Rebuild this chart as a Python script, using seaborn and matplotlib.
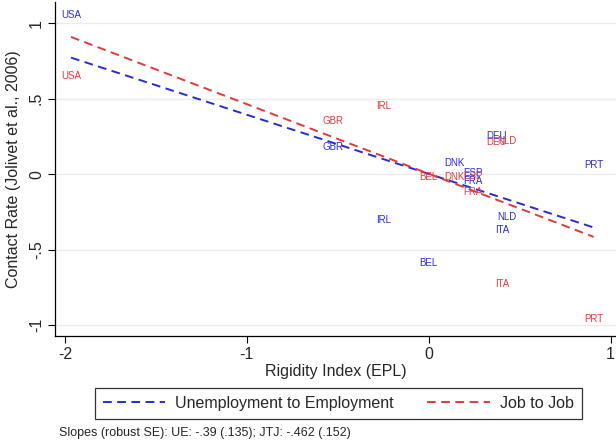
import numpy as np
import pandas as pd
import matplotlib
matplotlib.use("Agg")
import matplotlib.pyplot as plt
import seaborn as sns

# country-level data
countries = ["USA", "GBR", "IRL", "DNK", "ESP", "FRA", "DEU", "NLD", "ITA", "BEL", "PRT"]
epl = [-1.967, -0.527, -0.247, 0.143, 0.242, 0.242, 0.374, 0.429, 0.407, 0.0, 0.907]
ue = [1.053, 0.18, -0.307, 0.073, 0.007, -0.047, 0.253, -0.287, -0.373, -0.587, 0.058]
jtj = [0.653, 0.353, 0.453, -0.02, -0.013, -0.12, 0.213, 0.22, -0.727, -0.02, -0.96]

x_ticks = [-2, -1, 0, 1]
x_ticklabels = ["-2", "-1", "0", "1"]
y_ticks = [-1, -0.5, 0, 0.5, 1]
y_ticklabels = ["-1", "-.5", "0", ".5", "1"]

note = "Slopes (robust SE): UE: -.39 (.135); JTJ: -.462 (.152)"

BLUE = "#2b2bd6"
RED = "#e23a3a"
FS = 11.5

df = pd.DataFrame({"country": countries, "epl": epl, "ue": ue, "jtj": jtj})

sns.set_style("white")
plt.rcParams["font.family"] = ["Liberation Sans", "DejaVu Sans"]

fig = plt.figure(figsize=(6.16, 4.42), dpi=100)
ax = fig.add_axes([0.0893, 0.2398, 0.9107, 0.755])

for y in y_ticks:
    ax.axhline(y, color="#ebebeb", linewidth=1.0, zorder=0)

dash = (0, (4.5, 2.8))
sns.regplot(data=df, x="epl", y="ue", scatter=False, ci=None, ax=ax,
            label="Unemployment to Employment", color=BLUE,
            line_kws=dict(linewidth=1.4, linestyle=dash))
sns.regplot(data=df, x="epl", y="jtj", scatter=False, ci=None, ax=ax,
            label="Job to Job", color=RED,
            line_kws=dict(linewidth=1.4, linestyle=dash))

for _, r in df.iterrows():
    ax.text(r["epl"], r["ue"], r["country"], color=BLUE, fontsize=7,
            ha="center", va="center")
    ax.text(r["epl"], r["jtj"], r["country"], color=RED, fontsize=7,
            ha="center", va="center")

ax.set_xlim(-2.055, 1.03)
ax.set_ylim(-1.073, 1.14)
ax.set_xticks(x_ticks)
ax.set_xticklabels(x_ticklabels, fontsize=FS)
ax.set_yticks(y_ticks)
ax.set_yticklabels(y_ticklabels, fontsize=FS, rotation=90, va="center")
ax.tick_params(axis="both", direction="out", length=5, width=0.8, color="black",
               left=True, bottom=True, pad=3)
ax.set_xlabel("Rigidity Index (EPL)", fontsize=FS, labelpad=1)
ax.set_ylabel("Contact Rate (Jolivet et al., 2006)", fontsize=FS, labelpad=6)

sns.despine(ax=ax, top=True, right=True)
for side in ["left", "bottom"]:
    ax.spines[side].set_color("black")
    ax.spines[side].set_linewidth(0.9)

handles, labels = ax.get_legend_handles_labels()
leg = fig.legend(handles, labels, loc="center", bbox_to_anchor=(0.549, 0.088), ncol=2,
                 fontsize=FS, frameon=True, fancybox=False, edgecolor="black",
                 handlelength=3.9, columnspacing=2.1, borderpad=0.5, handletextpad=0.63)
leg.get_frame().set_linewidth(0.9)

fig.text(0.096, 0.02, note, fontsize=9, ha="left", va="center")

fig.savefig("out.png", dpi=100)
